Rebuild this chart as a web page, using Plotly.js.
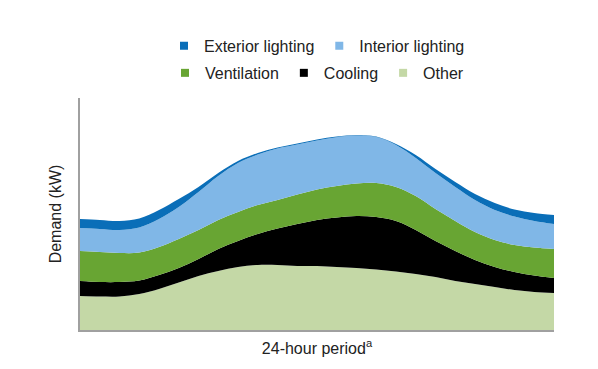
<!DOCTYPE html>
<html>
<head>
<meta charset="utf-8">
<script src="https://cdn.plot.ly/plotly-3.0.1.min.js"></script>
<style>html,body{margin:0;padding:0;background:#fff;}#chart{width:598px;height:369px;}</style>
</head>
<body>
<div id="chart"></div>
<script>
// Hour of the day (24-hour period)
var hours       = [0, 1, 2, 3, 4, 5, 6, 7, 8, 9, 10, 11, 12, 13, 14, 15, 16, 17, 18, 19, 20, 21, 22, 23, 24];
// Demand (kW), stacked from the bottom up
var other       = [34, 33.5, 33.5, 36, 41, 47.5, 54, 59, 63, 65, 65, 64, 64, 63, 62, 60.5, 58.5, 56, 53, 49, 46, 43, 40, 38, 37];
var cooling     = [15, 14.5, 14.5, 13.5, 14, 14.5, 17, 22, 26, 31, 36.5, 42, 46, 49.5, 52, 52.5, 50.5, 44, 36, 30, 24, 20, 18, 16.5, 15];
var ventilation = [30, 30, 29, 28, 28, 29, 29, 29, 29, 29, 28.5, 29.5, 30.5, 31.5, 32.5, 34, 34, 34, 32, 30, 28, 27, 27, 28, 29];
var interior    = [23, 23, 23, 25, 28, 32, 38, 44, 49, 50.5, 51.5, 50, 49, 48.8, 48, 46, 42, 38, 36, 34, 32, 30, 28.5, 26.5, 25];
var exterior    = [9, 9, 9, 9, 9, 8, 5, 3, 2, 1.5, 1, 1, 1, 0.7, 0.5, 0.5, 1, 3, 4, 5, 6, 7, 7, 8, 9];

var names  = ["Other", "Cooling", "Ventilation", "Interior lighting", "Exterior lighting"];
var series = [other, cooling, ventilation, interior, exterior];
var colors = ["#c4d8a6", "#000000", "#68a533", "#80b7e7", "#0a6eb8"];

var traces = [];
for (var i = 0; i < series.length; i++) {
  traces.push({
    x: hours, y: series[i], name: names[i], type: "scatter", mode: "lines",
    stackgroup: "one", line: {width: 0, shape: "spline", smoothing: 1},
    fillcolor: colors[i], showlegend: false, hoverinfo: "skip"
  });
}
// legend entries
var legendRows = [
  {legend: "legend",  items: [4, 3]},
  {legend: "legend2", items: [2, 1, 0]}
];
legendRows.forEach(function (row) {
  row.items.forEach(function (k) {
    traces.push({
      x: [null], y: [null], name: names[k], type: "scatter", mode: "markers",
      marker: {symbol: "square", size: 8, color: colors[k]},
      legend: row.legend, showlegend: true
    });
  });
});

var font = "'Liberation Sans', Arial, sans-serif";
var legendCommon = {
  orientation: "h", xanchor: "center", x: 0.5, yanchor: "middle",
  font: {family: font, size: 16, color: "#222"},
  itemwidth: 30, bgcolor: "rgba(0,0,0,0)", traceorder: "normal"
};
var layout = {
  width: 598, height: 369,
  margin: {l: 80, r: 44, t: 98, b: 39},
  paper_bgcolor: "#fff", plot_bgcolor: "#fff",
  font: {family: font, size: 16, color: "#222"},
  xaxis: {
    range: [0, 24], showgrid: false, zeroline: false, showticklabels: false, ticks: "",
    showline: true, linecolor: "#a0a0a0", linewidth: 2,
    title: {text: "24-hour period<sup>a</sup>", standoff: 12, font: {family: font, size: 16, color: "#222"}}
  },
  yaxis: {
    range: [0, 232], showgrid: false, zeroline: false, showticklabels: false, ticks: "",
    showline: true, linecolor: "#a0a0a0", linewidth: 2,
    title: {text: "Demand (kW)", standoff: 12, font: {family: font, size: 16, color: "#222"}}
  },
  legend: Object.assign({}, legendCommon, {y: 1.225}),
  legend2: Object.assign({}, legendCommon, {y: 1.108}),
  showlegend: true
};
Plotly.newPlot("chart", traces, layout, {displayModeBar: false, staticPlot: true});
</script>
</body>
</html>
